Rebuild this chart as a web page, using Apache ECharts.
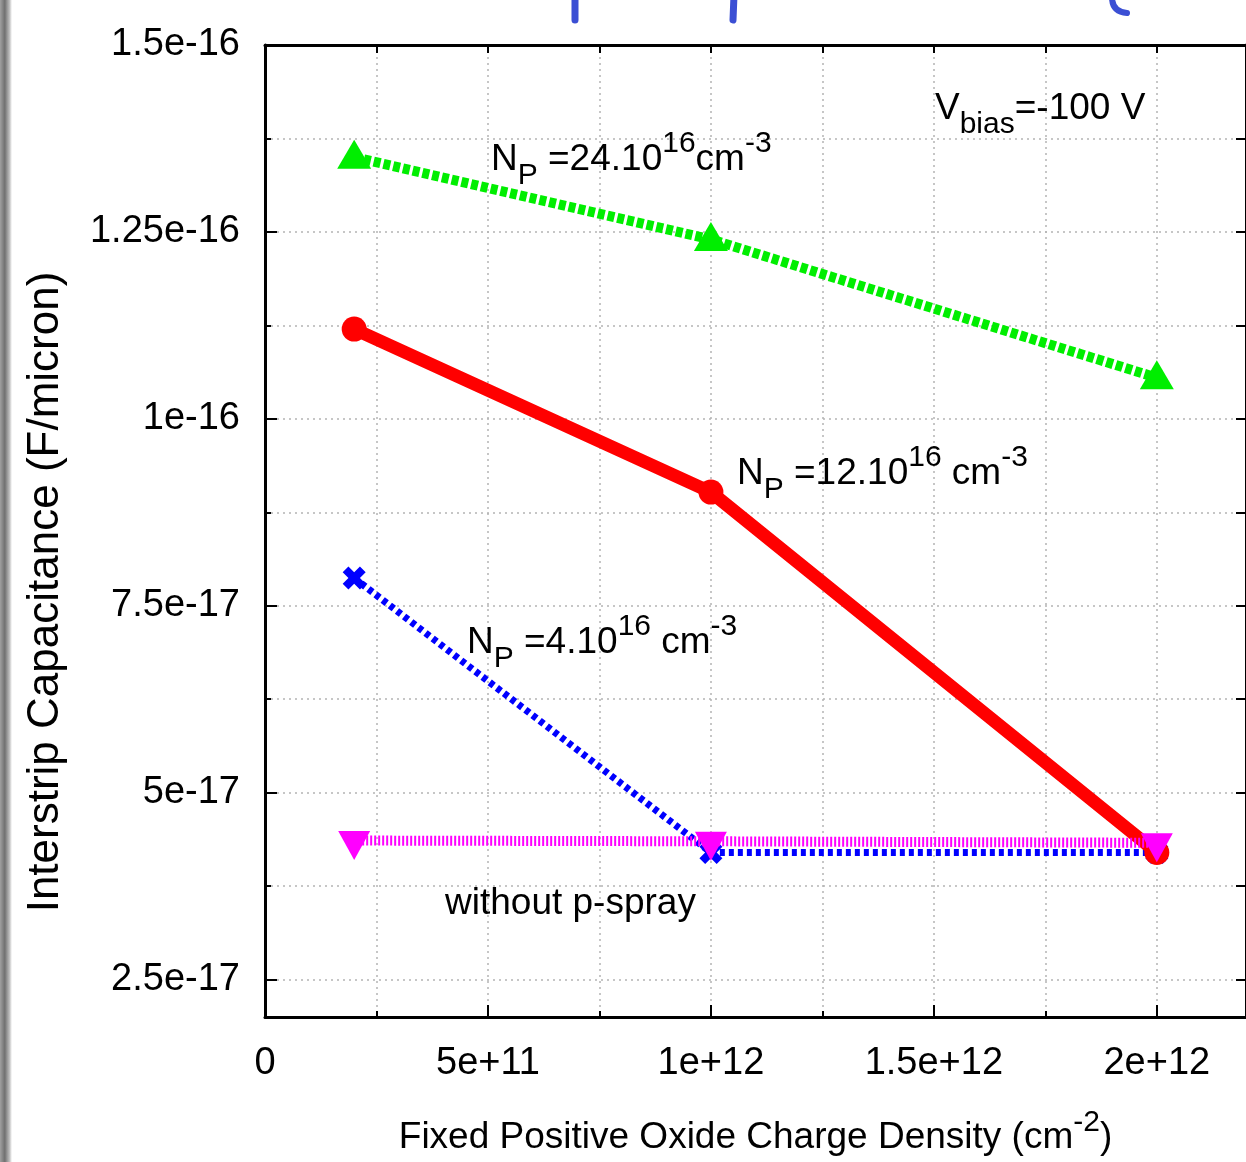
<!DOCTYPE html>
<html>
<head>
<meta charset="utf-8">
<script src="https://cdn.jsdelivr.net/npm/echarts@6/dist/echarts.min.js"></script>
<style>
  html, body { margin: 0; padding: 0; background: #fff; }
  #main { width: 1246px; height: 1162px; }
</style>
</head>
<body>
<div id="main"></div>
<script>
// x: fixed positive oxide charge density (cm^-2)
var xVals = [2e11, 1e12, 2e12];
// interstrip capacitance (F/micron)
var np24 = [1.35e-16, 1.24e-16, 1.055e-16];
var np12 = [1.12e-16, 9.02e-17, 4.2e-17];
var np4 = [7.87e-17, 4.2e-17, 4.2e-17];
var noSpray = [4.36e-17, 4.35e-17, 4.33e-17];

var xMajor = [0, 5e11, 1e12, 1.5e12, 2e12];
var xLabels = ['0', '5e+11', '1e+12', '1.5e+12', '2e+12'];
var xAll = [0, 2.5e11, 5e11, 7.5e11, 1e12, 1.25e12, 1.5e12, 1.75e12, 2e12];
var yMajor = [2.5e-17, 5e-17, 7.5e-17, 1e-16, 1.25e-16, 1.5e-16];
var yLabels = ['2.5e-17', '5e-17', '7.5e-17', '1e-16', '1.25e-16', '1.5e-16'];
var yAll = [2.5e-17, 3.75e-17, 5e-17, 6.25e-17, 7.5e-17, 8.75e-17, 1e-16, 1.125e-16, 1.25e-16, 1.375e-16, 1.5e-16];

var sans = "'Liberation Sans', Arial, sans-serif";

function pairs(ys) {
  return xVals.map(function (x, i) { return [x, ys[i]]; });
}
function pick(vals, labels, tol) {
  return function (v) {
    for (var i = 0; i < vals.length; i++) {
      if (Math.abs(vals[i] - v) < tol) return labels[i];
    }
    return '';
  };
}

var annRich = {
  m: { fontSize: 37, fontFamily: sans, lineHeight: 62, verticalAlign: 'middle', color: '#000' },
  sub: { fontSize: 30, fontFamily: sans, verticalAlign: 'bottom', color: '#000' },
  sup: { fontSize: 30, fontFamily: sans, verticalAlign: 'top', color: '#000' }
};
function ann(text, x, y) {
  return {
    type: 'text', x: x, y: y, z: 100,
    style: { text: text, rich: annRich, fill: '#000', fontSize: 37, fontFamily: sans, align: 'left', verticalAlign: 'middle' }
  };
}

var gridLine = { show: true, lineStyle: { color: '#b4b4b4', width: 1.5, type: [2, 4] } };

var chart = echarts.init(document.getElementById('main'));
chart.setOption({
  animation: false,
  backgroundColor: '#fff',
  grid: { left: 265, top: 45, width: 982, height: 972 },
  xAxis: [
    {
      type: 'value', position: 'bottom', min: 0, max: 2.2e12,
      axisLine: { onZero: false, lineStyle: { color: '#000', width: 3 } },
      axisTick: { inside: true, length: 12, customValues: xMajor, lineStyle: { color: '#000', width: 2 } },
      axisLabel: { customValues: xMajor, formatter: pick(xMajor, xLabels, 1e9), margin: 28,
        fontSize: 38, fontFamily: sans, color: '#000' },
      splitLine: { show: false },
      name: '{m|Fixed Positive Oxide Charge Density (cm}{sup|-2}{m|)}',
      nameLocation: 'middle', nameGap: 91,
      nameTextStyle: {
        color: '#000', fontSize: 37, fontFamily: sans,
        rich: {
          m: { fontSize: 37, fontFamily: sans, lineHeight: 60, verticalAlign: 'middle', color: '#000' },
          sup: { fontSize: 30, fontFamily: sans, verticalAlign: 'top', color: '#000' }
        }
      }
    },
    {
      type: 'value', position: 'bottom', min: 0, max: 2.2e12,
      axisLine: { show: false, onZero: false },
      axisTick: { inside: true, length: 6, customValues: xAll, lineStyle: { color: '#000', width: 2 } },
      axisLabel: { show: false },
      splitLine: gridLine
    },
    {
      type: 'value', position: 'top', min: 0, max: 2.2e12,
      axisLine: { onZero: false, lineStyle: { color: '#000', width: 3 } },
      axisTick: { inside: true, length: 8, customValues: xAll, lineStyle: { color: '#000', width: 2 } },
      axisLabel: { show: false },
      splitLine: { show: false }
    }
  ],
  yAxis: [
    {
      type: 'value', position: 'left', min: 2e-17, max: 1.5e-16,
      axisLine: { onZero: false, lineStyle: { color: '#000', width: 3 } },
      axisTick: { inside: true, length: 12, customValues: yMajor, lineStyle: { color: '#000', width: 2 } },
      axisLabel: { customValues: yMajor, formatter: pick(yMajor, yLabels, 1e-20), margin: 25,
        fontSize: 38, fontFamily: sans, color: '#000' },
      splitLine: { show: false }
    },
    {
      type: 'value', position: 'left', min: 2e-17, max: 1.5e-16,
      axisLine: { show: false, onZero: false },
      axisTick: { inside: true, length: 6, customValues: yAll, lineStyle: { color: '#000', width: 2 } },
      axisLabel: { show: false },
      splitLine: gridLine
    },
    {
      type: 'value', position: 'right', min: 2e-17, max: 1.5e-16,
      axisLine: { onZero: false, lineStyle: { color: '#000', width: 3 } },
      axisTick: { inside: true, length: 10, customValues: yAll, lineStyle: { color: '#000', width: 2 } },
      axisLabel: { show: false },
      splitLine: { show: false }
    }
  ],
  series: [
    {
      name: 'NP=24e16', type: 'line', data: pairs(np24),
      symbol: 'triangle', symbolSize: [34, 29], symbolOffset: [0, -3],
      itemStyle: { color: '#00ee00' },
      lineStyle: { color: '#00ee00', width: 10, type: [7, 3] }, z: 2
    },
    {
      name: 'NP=4e16', type: 'line', data: pairs(np4),
      symbol: 'path://M3,0 L6,3 L9,0 L12,3 L9,6 L12,9 L9,12 L6,9 L3,12 L0,9 L3,6 L0,3 Z', symbolSize: 23,
      itemStyle: { color: '#0000ff' },
      lineStyle: { color: '#0000ff', width: 7, type: [5, 4] }, z: 3
    },
    {
      name: 'NP=12e16', type: 'line', data: pairs(np12),
      symbol: 'circle', symbolSize: 25,
      itemStyle: { color: '#ff0000' },
      lineStyle: { color: '#ff0000', width: 13 }, z: 4
    },
    {
      name: 'without p-spray', type: 'line', data: pairs(noSpray),
      symbol: 'triangle', symbolRotate: 180, symbolSize: [32, 29], symbolOffset: [0, 5],
      itemStyle: { color: '#ff00ff' },
      lineStyle: { color: '#ff00ff', width: 10, type: [2, 2] }, z: 5
    }
  ],
  graphic: [
    {
      type: 'rect', shape: { x: 0, y: 0, width: 12, height: 1162 }, z: 100,
      style: {
        fill: new echarts.graphic.LinearGradient(0, 0, 1, 0, [
          { offset: 0, color: '#a0a0a0' }, { offset: 0.4, color: '#707070' },
          { offset: 0.8, color: '#c0c0c0' }, { offset: 1, color: '#ffffff' }
        ])
      }
    },
    { type: 'line', z: 100, shape: { x1: 575, y1: -5, x2: 575, y2: 20 }, style: { stroke: '#3b4fd4', lineWidth: 7, lineCap: 'round' } },
    { type: 'line', z: 100, shape: { x1: 734, y1: -5, x2: 733, y2: 20 }, style: { stroke: '#3b4fd4', lineWidth: 7, lineCap: 'round' } },
    { type: 'bezierCurve', z: 100, shape: { x1: 1112, y1: -3, cpx1: 1112, cpy1: 12, x2: 1127, y2: 13 }, style: { stroke: '#3b4fd4', lineWidth: 6, lineCap: 'round', fill: null } },
    {
      type: 'text', x: 46, y: 592, rotation: Math.PI / 2, z: 100,
      style: { text: 'Interstrip Capacitance (F/micron)', fill: '#000', fontSize: 44, fontFamily: sans, align: 'center', verticalAlign: 'middle' }
    },
    ann('{m|N}{sub|P}{m| =24.10}{sup|16}{m|cm}{sup|-3}', 491, 160),
    ann('{m|V}{sub|bias}{m|=-100 V}', 935, 109),
    ann('{m|N}{sub|P}{m| =12.10}{sup|16}{m| cm}{sup|-3}', 737, 474),
    ann('{m|N}{sub|P}{m| =4.10}{sup|16}{m| cm}{sup|-3}', 467, 643),
    ann('{m|without p-spray}', 445, 904)
  ]
});
</script>
</body>
</html>
